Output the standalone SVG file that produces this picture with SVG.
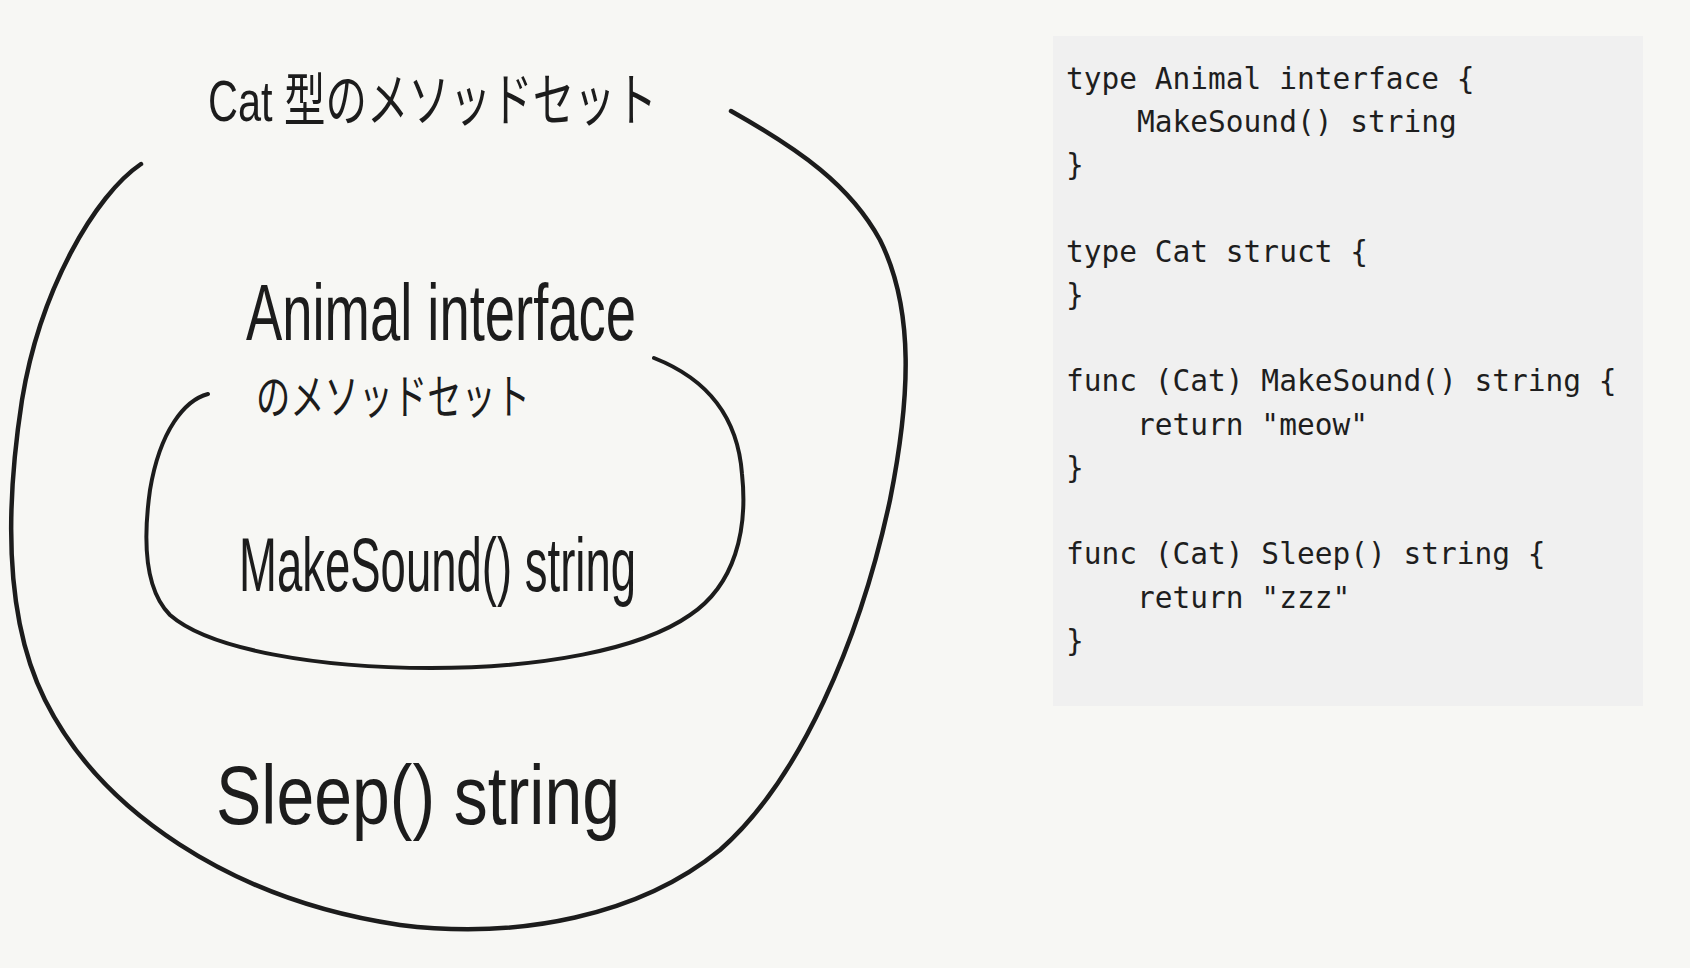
<svg xmlns="http://www.w3.org/2000/svg" width="1690" height="968" viewBox="0 0 1690 968">
<style>
.bg{fill:#f7f7f4}
.hand{font-family:"Liberation Sans","Noto Sans CJK JP",sans-serif;fill:#1c1c1c}
.curve{fill:none;stroke:#1c1c1c;stroke-linecap:round;stroke-linejoin:round}
.codebox{fill:#f0f0f0}
.code{font-family:"DejaVu Sans Mono","Liberation Mono",monospace;font-size:29.5px;fill:#1e1e1e;white-space:pre}
</style>
<rect class="bg" x="0" y="0" width="1690" height="968"/>
<g id="connectors">
<path id="outer-set" class="curve" stroke-width="4.5" d="M141,164 C95,195 40,290 22,400 C5,510 5,620 45,700 C100,810 230,900 400,925 C520,940 640,915 720,850 C800,780 860,640 890,500 C910,400 915,310 880,240 C850,185 800,150 731,111"/>
<path id="inner-set" class="curve" stroke-width="4" d="M208,394 C185,400 160,430 150,490 C143,540 145,590 170,615 C210,650 320,668 431,668 C540,668 640,650 690,615 C735,585 748,530 742,474 C738,420 710,380 654,358"/>
</g>
<g id="cat-methodset-label">
<text class="hand" x="208" y="121" font-size="58" textLength="449" lengthAdjust="spacingAndGlyphs">Cat 型のメソッドセット</text>
</g>
<g id="animal-methodset-label">
<text class="hand" x="246" y="340" font-size="80" textLength="390" lengthAdjust="spacingAndGlyphs">Animal interface</text>
<text class="hand" x="256" y="414" font-size="48" textLength="274" lengthAdjust="spacingAndGlyphs">のメソッドセット</text>
</g>
<g id="makesound">
<text class="hand" x="239" y="591" font-size="76" textLength="397" lengthAdjust="spacingAndGlyphs">MakeSound() string</text>
</g>
<g id="sleep">
<text class="hand" x="216" y="824" font-size="84" textLength="404" lengthAdjust="spacingAndGlyphs">Sleep() string</text>
</g>
<g id="code-block">
<rect class="codebox" x="1053" y="36" width="590" height="670"/>
<text class="code" x="1066" y="88.5">type Animal interface {</text>
<text class="code" x="1066" y="131.8">    MakeSound() string</text>
<text class="code" x="1066" y="175">}</text>
<text class="code" x="1066" y="261.5">type Cat struct {</text>
<text class="code" x="1066" y="304.8">}</text>
<text class="code" x="1066" y="391.3">func (Cat) MakeSound() string {</text>
<text class="code" x="1066" y="434.5">    return "meow"</text>
<text class="code" x="1066" y="477.8">}</text>
<text class="code" x="1066" y="564.3">func (Cat) Sleep() string {</text>
<text class="code" x="1066" y="607.5">    return "zzz"</text>
<text class="code" x="1066" y="650.8">}</text>
</g>
</svg>
